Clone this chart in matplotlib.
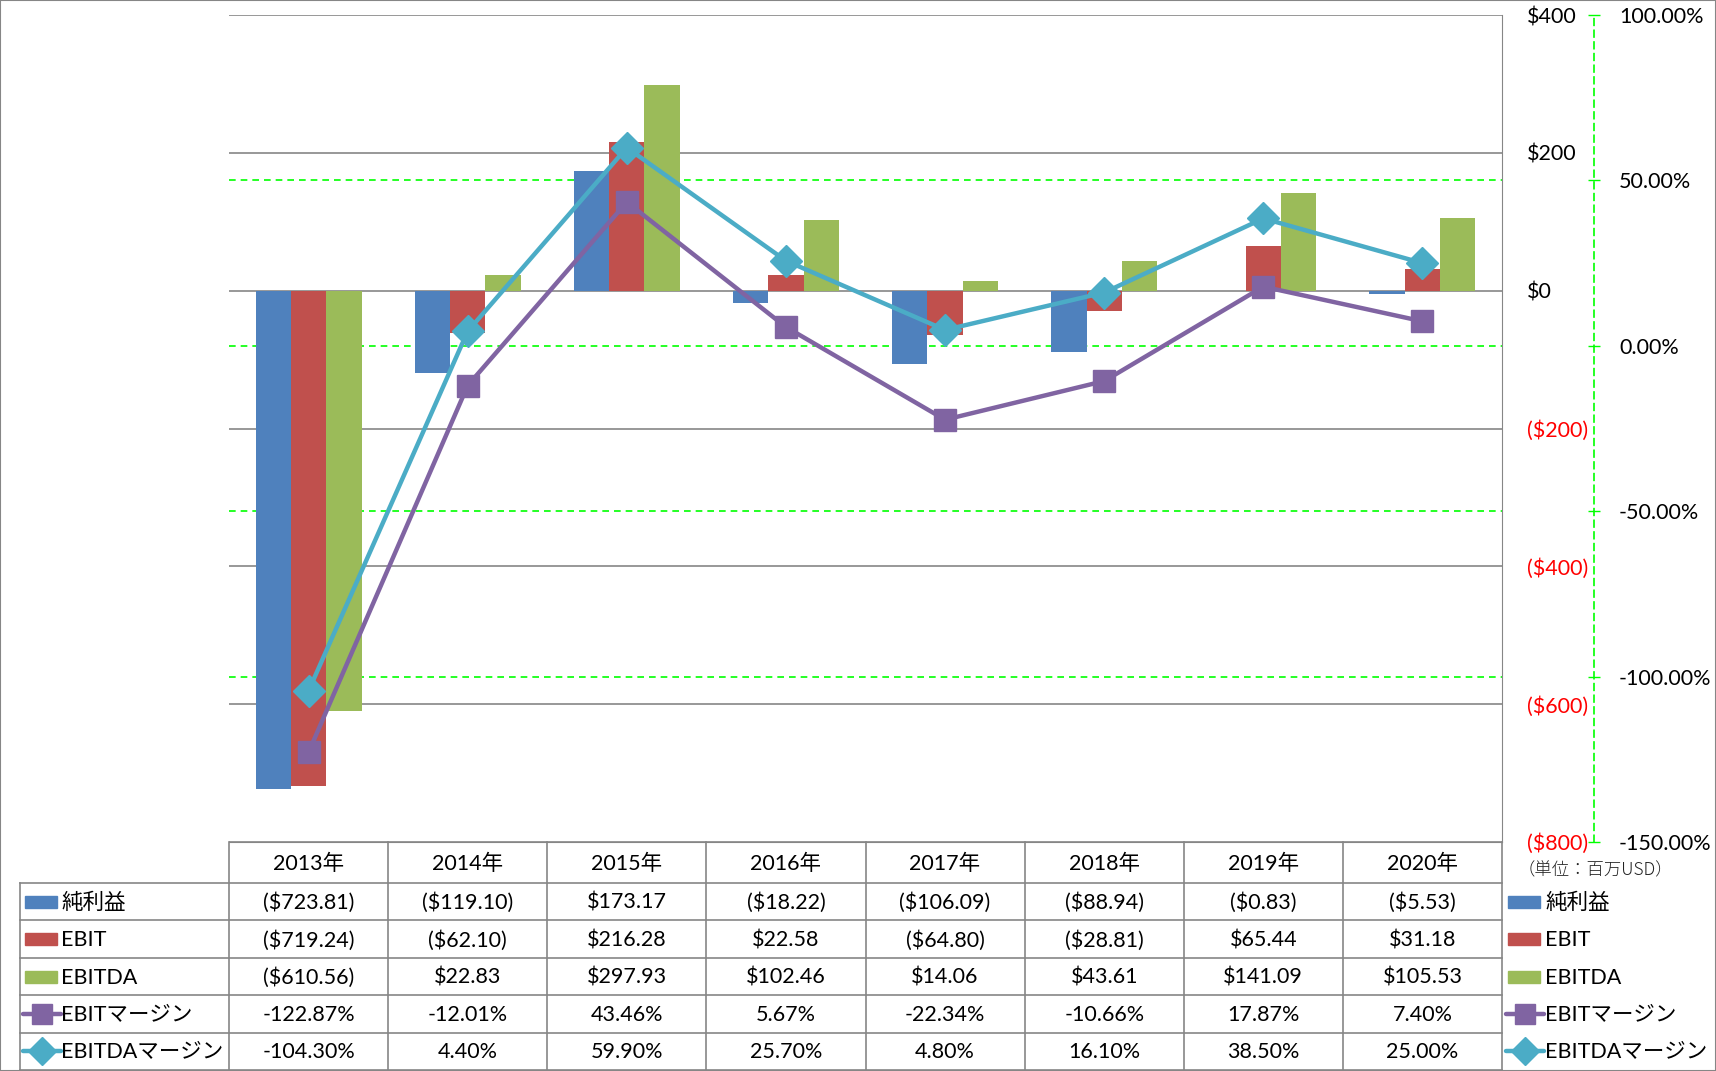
import matplotlib
matplotlib.use("Agg")
import matplotlib.pyplot as plt
import numpy as np
from matplotlib.lines import Line2D
from matplotlib.patches import Rectangle
from matplotlib.transforms import blended_transform_factory

plt.rcParams['font.family'] = ['Lato', 'Noto Sans CJK JP', 'DejaVu Sans']

years = ['2013年', '2014年', '2015年', '2016年', '2017年', '2018年', '2019年', '2020年']
net_income = [-723.81, -119.10, 173.17, -18.22, -106.09, -88.94, -0.83, -5.53]
ebit = [-719.24, -62.10, 216.28, 22.58, -64.80, -28.81, 65.44, 31.18]
ebitda = [-610.56, 22.83, 297.93, 102.46, 14.06, 43.61, 141.09, 105.53]
ebit_margin = [-122.87, -12.01, 43.46, 5.67, -22.34, -10.66, 17.87, 7.40]
ebitda_margin = [-104.30, 4.40, 59.90, 25.70, 4.80, 16.10, 38.50, 25.00]

usd_ticks = [-800, -600, -400, -200, 0, 200, 400]
pct_ticks = [-150, -100, -50, 0, 50, 100]

BLUE = '#4F81BD'
RED = '#C0504D'
GREEN = '#9BBB59'
PURPLE = '#8064A2'
CYAN = '#4BACC6'
GRAY = '#868686'
LIME = '#00FF00'

W, H = 1716, 1071
FS = 15.5


def fx(x):
    return x / W


def fy(y):
    return 1 - y / H


def usd(v):
    return '(${:,.2f})'.format(-v) if v < 0 else '${:,.2f}'.format(v)


def usd_tick(v):
    return '(${:,.0f})'.format(-v) if v < 0 else '${:,.0f}'.format(v)


fig = plt.figure(figsize=(W / 100, H / 100), dpi=100)
fig.patch.set_facecolor('white')
fig.patches.append(Rectangle((0, 0), 1, 1, transform=fig.transFigure, fill=False,
                             edgecolor=GRAY, lw=1.5))

# plot area in pixels
L, R, T, B = 229, 1502, 15, 842
ax = fig.add_axes([fx(L), fy(B), fx(R - L), (B - T) / H])
ax2 = ax.twinx()

n = len(years)
x = np.arange(n)
bw = 1 / 4.5
ax.bar(x - bw, net_income, bw, color=BLUE, zorder=2)
ax.bar(x, ebit, bw, color=RED, zorder=2)
ax.bar(x + bw, ebitda, bw, color=GREEN, zorder=2)

ax.set_xlim(-0.5, n - 0.5)
ax.set_ylim(-800, 400)
ax.set_xticks([])
ax.yaxis.set_ticks_position('right')
ax.set_yticks(usd_ticks, labels=[usd_tick(v) for v in usd_ticks])
ax.tick_params(axis='y', length=0, pad=18, labelsize=FS)
for lab, v in zip(ax.get_yticklabels(), usd_ticks):
    lab.set_color('red' if v < 0 else 'black')
for v in usd_ticks:
    ax.axhline(v, color=GRAY, lw=1.2, zorder=0.5)
for s in ['left', 'top']:
    ax.spines[s].set_visible(False)
ax.spines['right'].set_color(GRAY)
ax.spines['bottom'].set_color(GRAY)

# margin gridlines (green dashed), drawn behind the bars
tr = blended_transform_factory(ax.transAxes, ax2.transData)
for p in pct_ticks[1:-1]:
    ax.plot([0, 1], [p, p], transform=tr, color=LIME, lw=1.2,
            ls=(0, (4, 3)), zorder=0.6)

ax2.plot(x, ebit_margin, color=PURPLE, lw=3.2, marker='s', ms=16,
         mec=PURPLE, mfc=PURPLE, mew=1, zorder=3)
ax2.plot(x, ebitda_margin, color=CYAN, lw=3.2, marker='D', ms=16.5,
         mec=CYAN, mfc=CYAN, zorder=4)
ax2.set_ylim(-150, 100)
ax2.set_yticks(pct_ticks, labels=['{:.2f}%'.format(p) for p in pct_ticks])
for lab, v in zip(ax2.get_yticklabels(), pct_ticks):
    lab.set_color('red' if v < 0 else 'black')
ax2.spines['right'].set_position(('outward', (1594 - R) * 0.72))
ax2.spines['right'].set_color(LIME)
ax2.spines['right'].set_linestyle((0, (4, 3)))
ax2.spines['right'].set_linewidth(1.2)
for s in ['left', 'top', 'bottom']:
    ax2.spines[s].set_visible(False)
ax2.tick_params(axis='y', direction='inout', length=8, color=LIME, width=1,
                pad=14, labelsize=FS)

fig.text(fx(1518), fy(870), '（単位：百万USD）', fontsize=12.5, ha='left', va='center',
         family=['Noto Sans CJK JP'], color='#222222', fontweight='light')

# data table below the plot
col_w = (R - L) / n
row_edges = [B, 883, 920.4, 957.8, 995.2, 1032.6, 1070]


def hline(x0, x1, y):
    fig.add_artist(Line2D([fx(x0), fx(x1)], [fy(y), fy(y)], color=GRAY, lw=1.2))


def vline(x, y0, y1):
    fig.add_artist(Line2D([fx(x), fx(x)], [fy(y0), fy(y1)], color=GRAY, lw=1.2))


for y in row_edges[1:]:
    hline(20, R, y)
vline(20, row_edges[1], row_edges[-1])
for i in range(n + 1):
    vline(L + i * col_w, B, row_edges[-1])

for i, yr in enumerate(years):
    fig.text(fx(L + (i + 0.5) * col_w), fy((row_edges[0] + row_edges[1]) / 2 + 1), yr,
             ha='center', va='center', fontsize=FS)

rows = [
    ('純利益', [usd(v) for v in net_income], 'bar', BLUE),
    ('EBIT', [usd(v) for v in ebit], 'bar', RED),
    ('EBITDA', [usd(v) for v in ebitda], 'bar', GREEN),
    ('EBITマージン', ['{:.2f}%'.format(v) for v in ebit_margin], 's', PURPLE),
    ('EBITDAマージン', ['{:.2f}%'.format(v) for v in ebitda_margin], 'D', CYAN),
]


def legend_key(x0, yc, kind, color):
    if kind == 'bar':
        fig.patches.append(Rectangle((fx(x0 + 2), fy(yc + 6)), fx(32), 12 / H,
                                     transform=fig.transFigure, color=color))
    else:
        fig.add_artist(Line2D([fx(x0), fx(x0 + 38)], [fy(yc), fy(yc)], color=color,
                              lw=3.2, solid_capstyle='round'))
        fig.add_artist(Line2D([fx(x0 + 19)], [fy(yc)], color=color, marker=kind,
                              ms=14 if kind == 's' else 14.5, mfc=color, mec=color, lw=0))


for r, (name, cells, kind, color) in enumerate(rows):
    yc = (row_edges[r + 1] + row_edges[r + 2]) / 2
    legend_key(23, yc, kind, color)
    fig.text(fx(61), fy(yc + 1), name, ha='left', va='center', fontsize=FS)
    for i, c in enumerate(cells):
        fig.text(fx(L + (i + 0.5) * col_w), fy(yc + 1), c, ha='center', va='center',
                 fontsize=FS)
    # legend on the right of the table
    legend_key(1506, yc, kind, color)
    fig.text(fx(1545), fy(yc + 1), name, ha='left', va='center', fontsize=FS)

fig.savefig('out.png', dpi=100, facecolor='white')
